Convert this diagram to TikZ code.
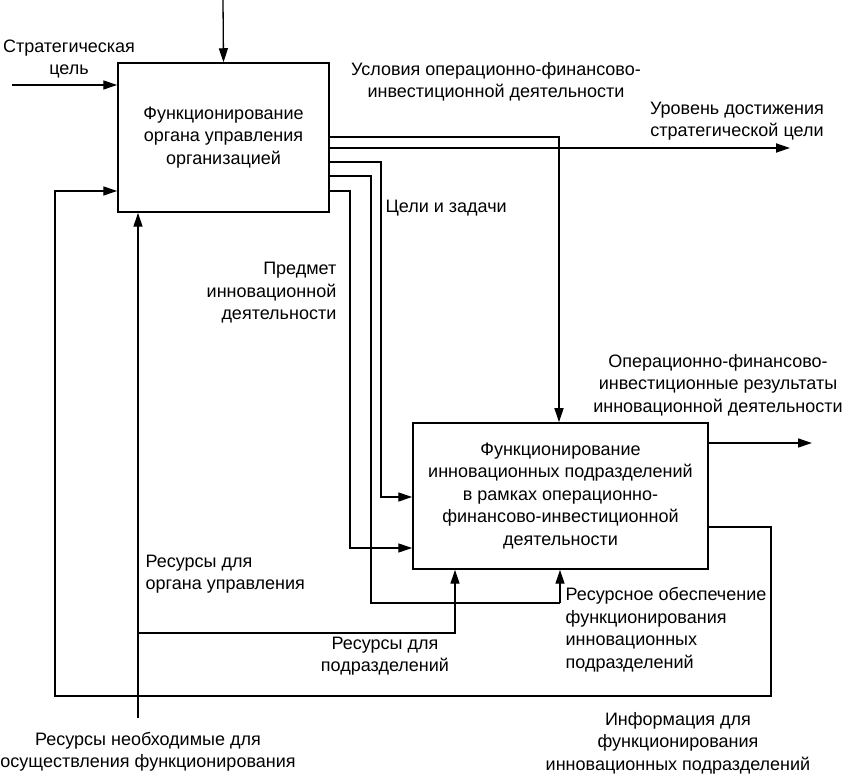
\documentclass[tikz,border=0pt]{standalone}
\usepackage{fontspec}
\setmainfont{Liberation Sans}
\usetikzlibrary{arrows.meta}
\begin{document}
\begin{tikzpicture}[x=1pt,y=-1pt,line width=1.3pt,
  arr/.style={-{Triangle[length=14pt,width=9pt]}},
  box/.style={draw,line width=1.5pt,inner sep=0pt,font=\fontsize{18}{22.5}\selectfont,align=center},
  lbl/.style={font=\fontsize{18}{22.5}\selectfont,inner sep=0pt,align=center}]
\useasboundingbox (0,0) rectangle (847,775);
\fill[white] (0,0) rectangle (847,775);
% boxes
\node[box,minimum width=211pt,minimum height=149pt] (b1) at (223.5,137.5)
  {Функционирование\\органа управления\\организацией};
\node[box,minimum width=295pt,minimum height=146pt] (b2) at (560.5,496)
  {Функционирование\\инновационных подразделений\\в рамках операционно-\\финансово-инвестиционной\\деятельности};
% free ends
\coordinate (topin) at (223,0);
\coordinate (strin) at (12,85);
\coordinate (urout) at (790,148);
\coordinate (opout) at (812,443);
\coordinate (resin) at (138,718);
% labels
\node[lbl] (lstr) at (69,59) {Стратегическая\\цель};
\node[lbl] (lusl) at (496,82) {Условия операционно-финансово-\\инвестиционной деятельности};
\node[lbl] (lur) at (737,121) {Уровень достижения\\стратегической цели};
\node[lbl,anchor=west] (lcel) at (385,208) {Цели и задачи};
\node[lbl,anchor=east,align=right] (lpred) at (337,293) {Предмет\\инновационной\\деятельности};
\node[lbl] (lop) at (718,385) {Операционно-финансово-\\инвестиционные результаты\\инновационной деятельности};
\node[lbl,anchor=west,align=left] (lrorg) at (145,574) {Ресурсы для\\органа управления};
\node[lbl] (lrpod) at (385,656) {Ресурсы для\\подразделений};
\node[lbl,anchor=west,align=left] (lrob) at (565,630) {Ресурсное обеспечение\\функционирования\\инновационных\\подразделений};
\node[lbl] (linf) at (678,743) {Информация для\\функционирования\\инновационных подразделений};
\node[lbl] (lneo) at (148,752) {Ресурсы необходимые для\\осуществления функционирования};
% connectors
\draw[arr] (topin) -- (b1.north);
\draw[arr] (strin) -- (strin -| b1.west);
\draw[arr] (b1.east |- 0,137) -- (559,137) -- (b2.north -| 559,0);
\draw[arr,line width=1.8pt] (b1.east |- 0,148) -- (urout);
\draw[arr] (b1.east |- 0,162) -- (381,162) -- (381,497) -- (b2.west |- 0,497);
\draw (b1.east |- 0,176) -- (371,176) -- (371,603) -- (560,603);
\draw[arr] (560,603) -- (b2.south -| 560,0);
\draw[arr] (b1.east |- 0,191) -- (350,191) -- (350,548) -- (b2.west |- 0,548);
\draw[arr] (b2.east |- 0,443) -- (opout);
\draw[arr] (b2.east |- 0,527) -- (771,527) -- (771,696) -- (55,696) -- (55,191) -- (b1.west |- 0,191);
\draw[arr] (resin) -- (b1.south -| 138,0);
\draw[arr] (138,633) -- (455,633) -- (b2.south -| 455,0);
\end{tikzpicture}
\end{document}
